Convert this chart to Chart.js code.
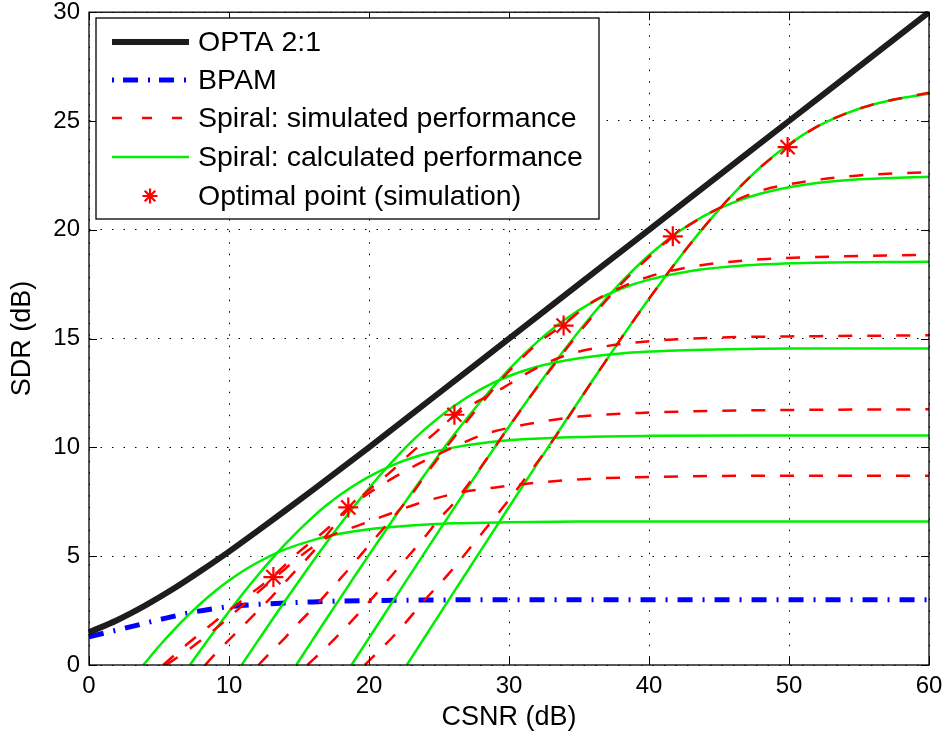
<!DOCTYPE html>
<html>
<head>
<meta charset="utf-8">
<script src="https://cdn.jsdelivr.net/npm/chart.js@4.4.1/dist/chart.umd.min.js"></script>
<style>
  html, body { margin: 0; padding: 0; background: #fff; }
</style>
</head>
<body>
<canvas id="chart" width="948" height="742"></canvas>
<script>
// OPTA 2:1 bound
const csnrOpta = [0, 2, 4, 6, 8, 10, 12, 14, 16, 18, 20, 25, 30, 35, 40, 45, 50, 55, 60];
const sdrOpta = [1.5, 2.06, 2.73, 3.49, 4.33, 5.21, 6.14, 7.09, 8.05, 9.02, 10.0, 12.5, 15.0, 17.5, 20.0, 22.5, 25.0, 27.5, 30.0];

// BPAM
const csnrBpam = [0, 2.5, 5, 7.5, 10, 13, 16, 20, 25, 30, 60];
const sdrBpam = [1.3, 1.68, 2.08, 2.44, 2.68, 2.82, 2.9, 2.96, 2.99, 3.0, 3.0];

// spiral, calculated (one curve per delta)
const calcX1 = [3.88, 5, 6, 7, 8, 9, 10, 11, 12, 13, 14, 16, 18, 20, 23, 26, 30, 35, 40, 60];
const calcY1 = [0, 0.86, 1.57, 2.23, 2.84, 3.39, 3.88, 4.32, 4.70, 5.03, 5.31, 5.74, 6.04, 6.24, 6.41, 6.51, 6.56, 6.59, 6.6, 6.6];
const calcX2 = [7.21, 8, 9, 10, 11, 12, 13, 14, 15, 16, 17, 18, 20, 22, 24, 26, 28, 31, 35, 40, 50, 60];
const calcY2 = [0, 0.71, 1.60, 2.46, 3.29, 4.08, 4.83, 5.54, 6.20, 6.81, 7.36, 7.85, 8.66, 9.27, 9.70, 9.99, 10.19, 10.37, 10.48, 10.53, 10.55, 10.55];
const calcX3 = [10.9, 12, 13, 14, 15, 16, 17, 18, 19, 20, 21, 22, 23, 24, 26, 28, 30, 32, 35, 38, 42, 50, 60];
const calcY3 = [0, 1.05, 2.00, 2.94, 3.86, 4.77, 5.65, 6.51, 7.34, 8.12, 8.88, 9.58, 10.24, 10.84, 11.87, 12.68, 13.28, 13.71, 14.10, 14.32, 14.45, 14.54, 14.55];
const calcX4 = [14.8, 16, 17, 18, 19, 20, 21, 22, 23, 24, 25, 26, 27, 28, 30, 32, 34, 36, 38, 40, 43, 47, 52, 60];
const calcY4 = [0, 1.18, 2.16, 3.13, 4.10, 5.06, 6.01, 6.95, 7.87, 8.77, 9.66, 10.52, 11.34, 12.13, 13.59, 14.84, 15.88, 16.69, 17.29, 17.71, 18.11, 18.37, 18.49, 18.53];
const calcX5 = [18.75, 20, 22, 24, 26, 28, 30, 32, 34, 36, 38, 40, 42, 44, 46, 48, 51, 55, 60];
const calcY5 = [0, 1.24, 3.22, 5.19, 7.14, 9.07, 10.96, 12.78, 14.52, 16.13, 17.58, 18.83, 19.86, 20.66, 21.25, 21.67, 22.06, 22.32, 22.44];
const calcX6 = [22.7, 24, 26, 28, 30, 32, 34, 36, 38, 40, 42, 44, 46, 48, 50, 52, 54, 56, 58, 60];
const calcY6 = [0, 1.30, 3.29, 5.28, 7.26, 9.23, 11.18, 13.11, 15.00, 16.83, 18.57, 20.18, 21.64, 22.90, 23.93, 24.74, 25.33, 25.76, 26.05, 26.25];

// spiral, simulated
const simX1 = [5.5, 7, 9, 11, 13.17, 15, 17, 19.4, 21.5, 23.4, 26.3, 28.9, 30.8, 35.3, 40, 50, 60];
const simY1 = [0, 0.65, 1.65, 2.75, 3.95, 4.95, 5.85, 6.45, 6.95, 7.4, 7.9, 8.15, 8.3, 8.54, 8.64, 8.7, 8.7];
const simX2 = [5.3, 7, 9, 11, 13.17, 15, 17, 18.52, 20, 22, 24, 26, 28, 30, 32, 35, 40, 45, 50, 60];
const simY2 = [0, 0.95, 2.0, 3.0, 4.1, 5.2, 6.25, 7.2, 7.9, 8.7, 9.4, 10.0, 10.55, 10.9, 11.15, 11.42, 11.6, 11.68, 11.72, 11.75];
const simX3 = [8.3, 9, 10, 11, 12, 13, 14, 15, 16, 17, 18.5, 20, 21.5, 23, 24.6, 26.1, 28, 29.6, 31, 32.6, 34.4, 36.5, 38, 41, 45, 50, 60];
const simY3 = [0, 0.5, 1.15, 1.8, 2.45, 3.1, 3.8, 4.5, 5.2, 6.0, 7.15, 8.05, 8.85, 9.75, 10.6, 11.45, 12.2, 12.75, 13.3, 13.85, 14.3, 14.6, 14.75, 14.93, 15.05, 15.1, 15.15];
const simX4 = [12.1, 13, 14, 15, 16, 17, 18, 19, 20, 21, 22, 23, 24, 26, 28, 30, 32, 33.9, 36, 38, 40, 43, 47, 52, 60];
const simY4 = [0, 0.6, 1.25, 1.95, 2.6, 3.3, 4.0, 4.75, 5.5, 6.25, 7.0, 7.8, 8.7, 10.4, 12.0, 13.5, 14.75, 15.65, 16.7, 17.35, 17.85, 18.3, 18.6, 18.75, 18.85];
const simX5 = [15.6, 17, 18, 20, 22, 24, 25.07, 26, 28, 30, 32, 34, 36, 38, 40, 41.7, 44, 46, 48, 51, 55, 60];
const simY5 = [0, 0.85, 1.5, 2.9, 4.4, 5.9, 6.75, 7.4, 9.1, 10.95, 12.75, 14.45, 16.05, 17.5, 18.75, 19.7, 20.65, 21.3, 21.8, 22.2, 22.5, 22.65];
const simX6 = [19.7, 22, 24, 25.7, 28, 30, 32, 33, 34, 36, 38, 40, 42, 44, 46, 48, 50, 52, 54, 56, 58, 60];
const simY6 = [0, 1.5, 3.0, 4.2, 6.0, 7.6, 9.3, 10.2, 11.15, 13.1, 15.0, 16.83, 18.57, 20.18, 21.64, 22.9, 23.9, 24.74, 25.33, 25.76, 26.05, 26.3];

// optimal points (simulation)
const optX = [13.17, 18.52, 26.1, 33.9, 41.7, 49.9];
const optY = [4.04, 7.24, 11.5, 15.6, 19.7, 23.8];

const xTicks = [0, 10, 20, 30, 40, 50, 60];
const yTicks = [0, 5, 10, 15, 20, 25, 30];

const legendLabels = ['OPTA 2:1', 'BPAM', 'Spiral: simulated performance', 'Spiral: calculated performance', 'Optimal point (simulation)'];

const FONT = "'Liberation Sans', Arial, Helvetica, sans-serif";
const RED = '#ff0000', GREEN = '#00ee00', BLUE = '#0000ff', BLACK = '#1e1c1d';
const redDash = [14, 15];
const blueDash = [15, 10, 2, 10];

const pts = (xs, ys) => xs.map((x, i) => ({ x: x, y: ys[i] }));

const lineSet = (xs, ys, color, width, dash) => ({
  data: pts(xs, ys),
  borderColor: color,
  borderWidth: width,
  borderDash: dash || [],
  borderCapStyle: 'butt',
  pointRadius: 0,
  fill: false,
  cubicInterpolationMode: 'monotone',
  clip: 1
});

const simSets = [[simX1, simY1], [simX2, simY2], [simX3, simY3], [simX4, simY4], [simX5, simY5], [simX6, simY6]]
  .map(([xs, ys]) => lineSet(xs, ys, RED, 2.5, redDash));
const calcSets = [[calcX1, calcY1], [calcX2, calcY2], [calcX3, calcY3], [calcX4, calcY4], [calcX5, calcY5], [calcX6, calcY6]]
  .map(([xs, ys]) => lineSet(xs, ys, GREEN, 2.5));

// draws an asterisk like the matlab '*' marker
const asterisk = (ctx, cx, cy, r) => {
  ctx.beginPath();
  for (let k = 0; k < 4; k++) {
    const ang = k * Math.PI / 4;
    ctx.moveTo(cx - r * Math.cos(ang), cy - r * Math.sin(ang));
    ctx.lineTo(cx + r * Math.cos(ang), cy + r * Math.sin(ang));
  }
  ctx.stroke();
};

// frame with inward ticks + legend box, drawn like the matlab axes
const matlabBox = {
  id: 'matlabBox',
  afterDraw(chart) {
    const { ctx, chartArea: a, scales: { x, y } } = chart;
    ctx.save();
    ctx.strokeStyle = '#000';
    ctx.lineWidth = 1.3;
    ctx.setLineDash([]);
    ctx.strokeRect(a.left, a.top, a.right - a.left, a.bottom - a.top);
    const tl = 8;
    ctx.beginPath();
    xTicks.forEach(v => {
      const px = Math.round(x.getPixelForValue(v)) + 0.5;
      ctx.moveTo(px, a.bottom); ctx.lineTo(px, a.bottom - tl);
      ctx.moveTo(px, a.top); ctx.lineTo(px, a.top + tl);
    });
    yTicks.forEach(v => {
      const py = Math.round(y.getPixelForValue(v)) + 0.5;
      ctx.moveTo(a.left, py); ctx.lineTo(a.left + tl, py);
      ctx.moveTo(a.right, py); ctx.lineTo(a.right - tl, py);
    });
    ctx.lineWidth = 1;
    ctx.stroke();

    // legend
    const bx = 96, by = 18, bw = 503, bh = 201;
    ctx.fillStyle = '#fff';
    ctx.fillRect(bx, by, bw, bh);
    ctx.lineWidth = 1.3;
    ctx.strokeStyle = '#000';
    ctx.strokeRect(bx, by, bw, bh);
    const rows = [42, 80, 118, 157, 196];
    const l0 = 112, l1 = 189, tx = 198;
    const styles = [
      { c: BLACK, w: 6, d: [] },
      { c: BLUE, w: 5, d: [2, 9, 15, 10] },
      { c: RED, w: 2.5, d: [10, 20] },
      { c: GREEN, w: 2.5, d: [] }
    ];
    styles.forEach((s, i) => {
      ctx.beginPath();
      ctx.strokeStyle = s.c;
      ctx.lineWidth = s.w;
      ctx.setLineDash(s.d);
      ctx.moveTo(l0, rows[i]);
      ctx.lineTo(l1, rows[i]);
      ctx.stroke();
    });
    ctx.setLineDash([]);
    ctx.strokeStyle = RED;
    ctx.lineWidth = 2.2;
    asterisk(ctx, 150, rows[4], 7.5);
    ctx.fillStyle = '#000';
    ctx.font = '28.5px ' + FONT;
    ctx.textBaseline = 'middle';
    ctx.textAlign = 'left';
    legendLabels.forEach((t, i) => ctx.fillText(t, tx, rows[i] + 1));
    ctx.restore();
  }
};

new Chart(document.getElementById('chart'), {
  type: 'line',
  data: {
    datasets: [
      {
        data: pts(optX, optY),
        showLine: false,
        pointStyle: 'star',
        pointRadius: 10,
        pointBorderWidth: 2.2,
        pointBorderColor: RED,
        pointBackgroundColor: RED,
        clip: false
      },
      lineSet(csnrOpta, sdrOpta, BLACK, 6),
      ...simSets,
      ...calcSets,
      lineSet(csnrBpam, sdrBpam, BLUE, 5, blueDash)
    ]
  },
  options: {
    responsive: false,
    devicePixelRatio: 1,
    animation: false,
    layout: { padding: { left: 0, right: 19, top: 10, bottom: 0 } },
    plugins: {
      legend: { display: false },
      tooltip: { enabled: false }
    },
    scales: {
      x: {
        type: 'linear',
        min: 0,
        max: 60,
        ticks: { stepSize: 10, color: '#000', font: { family: FONT, size: 24 }, padding: 7, maxRotation: 0 },
        grid: { color: '#000', lineWidth: 1, drawTicks: false },
        border: { display: false, dash: [1.5, 10] },
        title: { display: true, text: 'CSNR (dB)', color: '#000', font: { family: FONT, size: 27 }, padding: { top: 0, bottom: 8 } },
        afterFit: s => { s.height = 77; s.paddingLeft = 0; s.paddingRight = 0; }
      },
      y: {
        type: 'linear',
        min: 0,
        max: 30,
        ticks: { stepSize: 5, color: '#000', font: { family: FONT, size: 24 }, padding: 9 },
        grid: { color: '#000', lineWidth: 1, drawTicks: false },
        border: { display: false, dash: [1.5, 10] },
        title: { display: true, text: 'SDR (dB)', color: '#000', font: { family: FONT, size: 27 }, padding: { top: 6, bottom: 0 } },
        afterFit: s => { s.width = 89; s.paddingTop = 0; s.paddingBottom = 0; }
      }
    }
  },
  plugins: [matlabBox]
});
</script>
</body>
</html>
